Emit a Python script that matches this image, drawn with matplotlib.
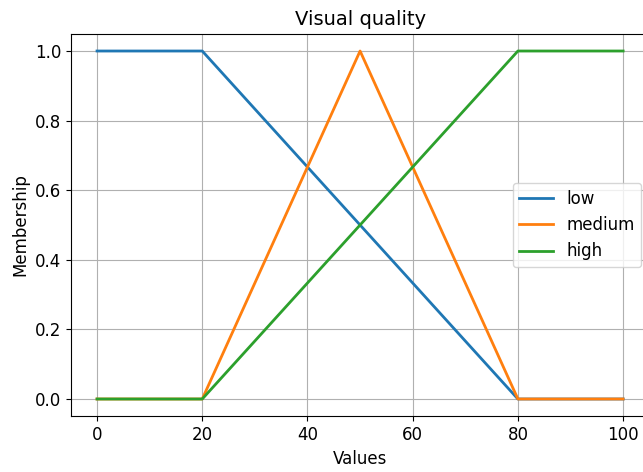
import numpy as np
import matplotlib.pyplot as plt

# membership functions for "Visual quality"
x_vals = [0, 20, 50, 80, 100]
low = [1.0, 1.0, 0.5, 0.0, 0.0]
medium = [0.0, 0.0, 1.0, 0.0, 0.0]
high = [0.0, 0.0, 0.5, 1.0, 1.0]

fig = plt.figure(figsize=(6.43, 4.72), dpi=100)
ax = fig.add_axes([0.110, 0.1178, 0.900, 0.811])

ax.plot(x_vals, low, label='low', linewidth=2)
ax.plot(x_vals, medium, label='medium', linewidth=2)
ax.plot(x_vals, high, label='high', linewidth=2)

ax.set_xlim(-5, 105)
ax.set_ylim(-0.05, 1.05)
ax.set_xticks([0, 20, 40, 60, 80, 100])
ax.set_yticks([0.0, 0.2, 0.4, 0.6, 0.8, 1.0])
ax.set_title('Visual quality', fontsize=14)
ax.set_xlabel('Values', fontsize=12)
ax.set_ylabel('Membership', fontsize=12)
ax.tick_params(labelsize=12)
ax.grid(True)
ax.legend(loc='center right', fontsize=12)

fig.savefig('out.png', dpi=100)
